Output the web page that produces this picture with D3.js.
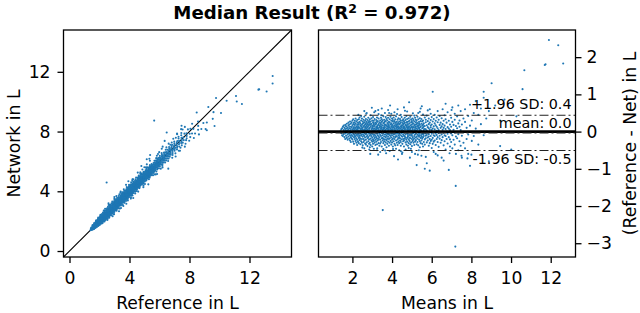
<!DOCTYPE html>
<html><head><meta charset="utf-8">
<script src="https://cdn.jsdelivr.net/npm/d3@7"></script>
<style>
html,body{margin:0;padding:0;background:#fff;}
svg{display:block;font-family:"DejaVu Sans",sans-serif;}
</style></head>
<body><svg id="c" width="640" height="313"></svg>
<script>
// ---- data (Bland-Altman: mean of Reference & Network, difference Reference - Network), in L ----
const cloudColumns = [
 [1.40,[0.01]],[1.44,[-0.04,0.06]],[1.48,[0.09,-0.1]],[1.52,[-0.02,0.13,-0.12]],
 [1.56,[0.04,-0.07,0.16]],[1.60,[-0.15,0.0,0.1]],[1.64,[0.07,-0.05,0.18,-0.2]],
 [1.68,[-0.11,0.02,0.14]],[1.72,[0.21,-0.03,-0.17,0.08]],[1.76,[-0.08,0.11,0.03,-0.22]],
 [1.80,[0.16,-0.13,0.05,-0.01,0.24]],[1.84,[-0.19,0.09,-0.06,0.19]],
 [1.88,[0.02,-0.24,0.13,-0.1,0.27]],[1.92,[-0.04,0.07,-0.15,0.21,-0.28]],
 [1.96,[0.12,-0.09,0.0,0.25,-0.18]],[2.00,[-0.21,0.05,0.16,-0.12,0.3,-0.02]],
 [2.04,[0.09,-0.27,0.2,-0.06,0.01,0.33]],[2.08,[-0.15,0.12,-0.33,0.04,0.24,-0.08]],
 [2.12,[0.18,-0.01,-0.2,0.29,-0.11,0.07]],[2.16,[-0.25,0.1,0.02,-0.14,0.35,0.22,-0.05]],
 [2.20,[0.14,-0.3,0.06,-0.09,0.27,-0.18,0.0]],[2.24,[-0.03,0.19,-0.22,0.11,-0.36,0.31,0.05]],
 [2.28,[0.08,-0.12,0.24,-0.27,0.02,0.15,-0.07]],[2.32,[-0.17,0.03,0.33,-0.04,0.12,-0.31,0.2]],
 [2.36,[0.1,-0.23,0.0,0.26,-0.1,0.38,-0.15]],[2.40,[-0.06,0.17,-0.34,0.07,0.22,-0.19,0.01]],
 [2.44,[0.13,-0.02,-0.26,0.3,-0.11,0.04,0.42]],[2.48,[-0.2,0.09,0.18,-0.08,0.35,-0.3,0.0]],
 [2.52,[0.05,-0.14,0.27,-0.37,0.11,-0.03,0.21]],[2.56,[-0.09,0.23,-0.2,0.02,0.32,-0.28,0.14]],
 [2.60,[0.16,-0.05,0.06,-0.24,0.4,-0.12,0.25,-0.45]],[2.64,[-0.32,0.11,-0.01,0.19,-0.16,0.29,0.03]],
 [2.68,[0.07,-0.22,0.34,-0.07,0.13,-0.35,0.22]],[2.72,[-0.13,0.02,0.26,-0.29,0.09,0.17,-0.04,0.5]],
 [2.76,[0.2,-0.18,0.05,-0.39,0.31,-0.1,0.12]],[2.80,[-0.02,0.15,-0.26,0.37,0.0,-0.15,0.24]],
 [2.84,[0.09,-0.33,0.18,-0.06,0.28,-0.21,0.04]],[2.88,[-0.11,0.23,-0.02,0.33,-0.3,0.1,-0.42]],
 [2.92,[0.14,-0.08,0.01,-0.19,0.27,-0.36,0.19,0.44]],[2.96,[-0.24,0.06,0.21,-0.12,0.36,0.0,-0.05]],
 [3.00,[0.11,-0.27,0.16,-0.03,0.3,-0.16,0.08,-0.4]],[3.04,[-0.07,0.25,-0.21,0.03,0.13,-0.33,0.39]],
 [3.08,[0.18,-0.12,0.07,-0.25,0.29,-0.01,0.22,-0.46]],[3.12,[-0.17,0.02,0.34,-0.08,0.15,-0.3,0.09]],
 [3.16,[0.06,-0.22,0.24,-0.36,0.0,0.19,-0.11,0.55]],[3.20,[-0.04,0.12,-0.15,0.31,-0.27,0.05,0.21]],
 [3.24,[0.26,-0.19,0.08,-0.06,0.38,-0.34,0.14,-0.5]],[3.28,[-0.1,0.17,-0.24,0.03,0.28,-0.02,0.1]],
 [3.32,[0.02,-0.31,0.2,-0.13,0.35,0.07,-0.2,0.47]],[3.36,[-0.16,0.11,-0.05,0.25,-0.38,0.16,0.0]],
 [3.40,[0.13,-0.09,0.3,-0.22,0.04,-0.32,0.23,-0.55]],[3.44,[-0.02,0.2,-0.28,0.09,0.37,-0.12,0.15]],
 [3.48,[0.07,-0.18,0.26,-0.04,0.12,-0.4,0.33,0.62]],[3.52,[-0.24,0.04,0.17,-0.1,0.29,-0.17,0.01]],
 [3.56,[0.22,-0.06,-0.31,0.1,0.41,-0.2,0.06,-0.47]],[3.60,[-0.13,0.15,-0.01,0.32,-0.26,0.08,0.24]],
 [3.64,[0.03,-0.21,0.19,-0.36,0.27,-0.08,0.12,0.5]],[3.68,[-0.07,0.28,-0.15,0.05,-0.29,0.18,0.39]],
 [3.72,[0.16,-0.11,0.0,-0.23,0.34,-0.42,0.09,-0.03]],[3.76,[-0.19,0.07,0.23,-0.05,0.14,-0.33,0.3]],
 [3.80,[0.1,-0.27,0.02,0.37,-0.14,0.2,-0.08,0.58]],[3.84,[-0.04,0.13,-0.2,0.26,-0.38,0.06,0.17]],
 [3.88,[0.24,-0.09,0.11,-0.3,0.0,0.33,-0.18,-0.52]],[3.92,[-0.12,0.19,-0.02,0.08,-0.25,0.4,0.03]],
 [3.96,[0.05,-0.16,0.29,-0.35,0.14,-0.06,0.22,0.48]],[4.00,[-0.22,0.1,0.02,-0.1,0.35,-0.29,0.18]],
 [4.04,[0.15,-0.04,-0.19,0.27,0.06,-0.4,0.31,-0.01]],[4.08,[-0.08,0.22,-0.26,0.12,0.0,0.38,-0.14]],
 [4.12,[0.09,-0.33,0.17,-0.07,0.28,-0.2,0.04,0.52]],[4.16,[-0.15,0.03,0.24,-0.37,0.13,-0.03,0.33]],
 [4.20,[0.2,-0.12,0.07,-0.24,0.41,-0.06,0.15,-0.46]],[4.24,[-0.02,0.16,-0.3,0.1,-0.13,0.26,0.0]],
 [4.28,[0.12,-0.21,0.32,-0.05,0.2,-0.36,0.05,0.6]],[4.32,[-0.1,0.08,-0.17,0.23,-0.27,0.36,0.14]],
 [4.36,[0.03,-0.06,0.27,-0.31,0.11,-0.15,0.19,-0.5]],[4.40,[-0.18,0.21,0.0,-0.09,0.34,-0.24,0.07]],
 [4.44,[0.14,-0.28,0.09,0.25,-0.02,-0.38,0.3,0.45]],[4.48,[-0.05,0.17,-0.21,0.04,-0.12,0.39,0.12]],
 [4.52,[0.23,-0.14,0.06,-0.33,0.29,-0.01,0.16,-0.56]],[4.56,[-0.2,0.02,0.19,-0.07,0.33,-0.26,0.1]],
 [4.60,[0.08,-0.24,0.28,-0.11,0.14,-0.4,0.22,0.65]],[4.64,[-0.13,0.11,-0.03,0.37,-0.19,0.05,0.24]],
 [4.68,[0.18,-0.08,-0.29,0.07,0.31,-0.16,0.0,-0.48]],[4.72,[-0.01,0.24,-0.22,0.13,-0.35,0.17,0.42]],
 [4.76,[0.1,-0.17,0.05,-0.27,0.26,-0.05,0.34,0.54]],[4.80,[-0.09,0.15,-0.38,0.02,0.2,-0.13,0.08]],
 [4.84,[0.27,-0.03,0.12,-0.21,0.36,-0.31,0.04,-0.44]],[4.88,[-0.16,0.06,0.22,-0.09,0.13,-0.25,0.3]],
 [4.92,[0.04,-0.34,0.17,-0.02,0.4,-0.18,0.09]],[4.96,[-0.11,0.25,-0.07,0.11,-0.29,0.33,0.01]],
 [5.00,[0.19,-0.2,0.03,-0.39,0.28,-0.1,0.14,-0.55]],[5.04,[-0.05,0.1,-0.25,0.35,0.06,-0.15,0.23]],
 [5.08,[0.12,-0.3,0.21,-0.04,0.31,-0.21,0.0]],[5.12,[-0.18,0.04,0.27,-0.12,0.16,-0.36,0.43]],
 [5.16,[0.07,-0.08,-0.27,0.19,0.37,-0.01,0.11,-0.6]],[5.20,[-0.23,0.14,-0.05,0.25,-0.16,0.03,0.32]],
 [5.24,[0.02,-0.13,0.2,-0.34,0.09,0.29,-0.9]],[5.28,[-0.08,0.23,-0.19,0.06,0.4,-0.28,0.15]],
 [5.32,[0.17,-0.02,-0.37,0.12,-0.11,0.33,0.5]],[5.36,[-0.14,0.08,0.26,-0.22,0.01,-0.06,0.21]],
 [5.40,[0.05,-0.26,0.18,-0.1,0.36,-0.42,0.11]],[5.44,[-0.03,0.13,-0.17,0.28,-0.31,0.04,0.62]],
 [5.48,[0.21,-0.09,0.02,-0.24,0.34,-0.14,-0.65]],[5.52,[-0.19,0.16,-0.04,0.09,-0.33,0.27]],
 [5.56,[0.1,-0.15,0.3,-0.07,0.19,-0.4,0.46]],[5.60,[-0.06,0.22,-0.28,0.04,0.14,-0.12]],
 [5.65,[0.15,-0.21,0.38,-0.02,-0.35,0.07,-1.0]],[5.70,[-0.11,0.06,0.25,-0.18,0.32,-0.05]],
 [5.75,[0.03,-0.29,0.17,-0.09,0.43,-0.85]],[5.80,[-0.16,0.12,-0.03,0.28,-0.24,0.57]],
 [5.85,[0.2,-0.07,-0.38,0.09,0.35,-0.13]],[5.90,[-0.02,0.24,-0.2,0.05,-0.31,-1.05]],
 [5.95,[0.11,-0.12,0.31,-0.25,0.16,0.48]],[6.00,[-0.22,0.04,0.19,-0.06,0.39,-0.44]],
 [6.05,[0.08,-0.17,0.27,-0.33,1.07]],[6.10,[-0.1,0.14,-0.02,0.34,-0.27]],
 [6.15,[0.22,-0.24,0.06,-0.12,0.45]],[6.20,[-0.05,0.17,-0.36,0.29,-0.6]],
 [6.25,[0.13,-0.09,0.02,-0.2,0.38]],[6.30,[-0.15,0.25,-0.28,0.09,0.55]],
 [6.35,[0.04,-0.04,0.32,-0.41]],[6.40,[-0.19,0.18,-0.11,0.42]],[6.45,[0.1,-0.3,0.24,-0.02]],
 [6.50,[-0.08,0.14,-0.23,0.36,-0.7]],[6.55,[0.2,-0.15,0.05,0.6]],[6.60,[-0.03,0.29,-0.37,0.1]],
 [6.65,[0.16,-0.1,-0.26,0.44]],[6.70,[-0.12,0.07,0.33,-0.48]],[6.75,[0.24,-0.2,0.0]],
 [6.80,[-0.06,0.12,-0.32,0.52]],[6.86,[0.08,-0.15,0.29,-1.03]],[6.92,[-0.21,0.19,0.04,-0.4]],
 [6.98,[0.13,-0.05,0.37,-0.28]],[7.04,[-0.1,0.26,-0.45,0.65]],[7.10,[0.05,-0.22,0.18]],
 [7.16,[-0.03,0.32,-0.35,0.48]],[7.22,[0.15,-0.13,-0.6]],[7.28,[-0.18,0.09,0.41]],
 [7.34,[0.22,-0.07,-0.5,0.7]],[7.40,[-0.26,0.13,0.3]],[7.46,[0.04,-0.38,0.55]],
 [7.52,[0.19,-0.11,-0.7]],[7.60,[-0.02,0.35,-0.3]],[7.68,[0.26,-0.45,0.6]],[7.76,[0.1,-0.2]],
 [7.84,[0.42,-0.08,-0.6]],[7.93,[0.16,-0.92,0.72]],[8.02,[-0.25,0.3]],[8.12,[0.5,-0.12]],
 [8.22,[0.08,0.82]],[8.35,[-0.35,0.45]],[8.48,[0.2,0.62]],[8.62,[1.07,-0.1,0.91]],
 [8.75,[0.35]],[8.88,[0.55,-0.8]],[9.02,[1.3]],[9.2,[0.7]],[9.45,[-0.39,0.3]],
 [9.67,[0.86]],[10.01,[-0.48]],[10.27,[0.41]],[10.58,[1.14]],[10.67,[1.65]],[10.74,[0.72]]
];
// sparse points away from the cloud
const sparseMeans = [2.98,3.3,3.9,4.86,5.5,6.7,7.0,2.9,3.3,3.7,4.1,4.5,4.9,5.3,5.7,6.3,6.6,7.5,7.8,8.0,2.6,4.3,
  2.3,2.7,3.1,3.45,3.85,4.25,4.65,5.05,5.4,5.9,2.5,2.85,3.25,3.65,4.05,4.45,4.95,5.35,6.1,6.9];
const sparseDiffs = [0.64,0.58,0.7,0.79,0.68,0.75,0.58,-0.6,-0.62,-0.58,-0.66,-0.6,-0.7,-0.62,-0.68,-0.64,-0.78,-0.65,-0.72,-0.62,0.55,-0.75,
  0.45,0.48,0.52,0.44,0.5,0.47,0.56,0.49,0.53,0.6,-0.43,-0.48,-0.45,-0.51,-0.47,-0.53,-0.46,-0.5,-0.55,-0.58];
// isolated outliers
const outlierMeans = [3.53,7.21,7.19,11.74,11.91,12.38,12.63,11.7];
const outlierDiffs = [-2.11,-1.46,-3.09,1.81,2.46,2.32,1.83,1.79];

const limitUpper = 0.44, limitMean = -0.035, limitLower = -0.51;
const annotations = ["+1.96 SD: 0.4","mean: 0.0","-1.96 SD: -0.5"];
const xTicksLeft = [0,4,8,12], yTicksLeft = [0,4,8,12];
const xTicksRight = [2,4,6,8,10,12], yTicksRight = [-3,-2,-1,0,1,2];

// ---- build points ----
const pts = [];
cloudColumns.forEach(([m, ds]) => ds.forEach(d => pts.push({m, d})));
sparseMeans.forEach((m,i) => pts.push({m, d: sparseDiffs[i]}));
outlierMeans.forEach((m,i) => pts.push({m, d: outlierDiffs[i]}));
pts.forEach(p => { p.ref = p.m + p.d/2; p.net = p.m - p.d/2; });

const svg = d3.select("#c");
const blue = "#1f77b4";
const FS = 17.2;
const fmt = d3.format("d");

// boxes
const L = {x0:63.5, x1:291.5, y0:30, y1:257};
const R = {x0:318.5, x1:575.5, y0:30, y1:257};

const xL = d3.scaleLinear().domain([-0.4,14.8]).range([L.x0,L.x1]);
const yL = d3.scaleLinear().domain([-0.4,14.8]).range([L.y1,L.y0]);
const xR = d3.scaleLinear().domain([0.29,13.25]).range([R.x0,R.x1]);
const yR = d3.scaleLinear().domain([-3.37,2.73]).range([R.y1,R.y0]);

// ---- left panel ----
const gL = svg.append("g");
gL.append("line")
  .attr("x1", xL(-0.4)).attr("y1", yL(-0.4))
  .attr("x2", xL(14.8)).attr("y2", yL(14.8))
  .attr("stroke","#000").attr("stroke-width",1.1);
gL.append("g").selectAll("circle").data(pts).join("circle")
  .attr("cx", p => xL(p.ref)).attr("cy", p => yL(p.net))
  .attr("r", 1.05).attr("fill", blue);
gL.append("rect").attr("x",L.x0).attr("y",L.y0).attr("width",L.x1-L.x0).attr("height",L.y1-L.y0)
  .attr("fill","none").attr("stroke","#000").attr("stroke-width",1.3);

function styleAxis(g){
  g.select(".domain").remove();
  g.selectAll(".tick line").attr("stroke","#000").attr("stroke-width",1.3);
  g.selectAll(".tick text").attr("font-size",FS).attr("fill","#000").attr("font-family","DejaVu Sans");
}
gL.append("g").attr("transform",`translate(0,${L.y1})`)
  .call(d3.axisBottom(xL).tickValues(xTicksLeft).tickFormat(fmt).tickSize(6).tickPadding(9)).call(styleAxis);
gL.append("g").attr("transform",`translate(${L.x0},0)`)
  .call(d3.axisLeft(yL).tickValues(yTicksLeft).tickFormat(fmt).tickSize(6).tickPadding(7)).call(styleAxis);

svg.append("text").attr("x",(L.x0+L.x1)/2).attr("y",308.5).attr("text-anchor","middle")
  .attr("font-size",FS).text("Reference in L");
svg.append("text").attr("transform",`translate(20,${(L.y0+L.y1)/2}) rotate(-90)`)
  .attr("text-anchor","middle").attr("font-size",FS).text("Network in L");

// ---- right panel ----
const gR = svg.append("g");
gR.append("g").selectAll("circle").data(pts).join("circle")
  .attr("cx", p => xR(p.m)).attr("cy", p => yR(p.d))
  .attr("r", 1.05).attr("fill", blue);
gR.append("line").attr("x1",R.x0).attr("x2",R.x1).attr("y1",yR(0)).attr("y2",yR(0))
  .attr("stroke","#000").attr("stroke-width",2.6);
[limitUpper, limitMean, limitLower].forEach(v => {
  gR.append("line").attr("x1",R.x0).attr("x2",R.x1).attr("y1",yR(v)).attr("y2",yR(v))
    .attr("stroke","#222").attr("stroke-width",1.1).attr("stroke-dasharray","9,3,2,3");
});
gR.append("rect").attr("x",R.x0).attr("y",R.y0).attr("width",R.x1-R.x0).attr("height",R.y1-R.y0)
  .attr("fill","none").attr("stroke","#000").attr("stroke-width",1.3);
gR.append("g").attr("transform",`translate(0,${R.y1})`)
  .call(d3.axisBottom(xR).tickValues(xTicksRight).tickFormat(fmt).tickSize(6).tickPadding(9)).call(styleAxis);
gR.append("g").attr("transform",`translate(${R.x1},0)`)
  .call(d3.axisRight(yR).tickValues(yTicksRight).tickFormat(fmt).tickSize(6).tickPadding(5)).call(styleAxis);

const annY = [yR(limitUpper)-6, yR(limitMean)-4.5, yR(limitLower)+13.5];
annotations.forEach((t,i) => {
  svg.append("text").attr("x",571.5).attr("y",annY[i]).attr("text-anchor","end")
    .attr("font-size",14.3).text(t);
});

svg.append("text").attr("x",(R.x0+R.x1)/2).attr("y",308.5).attr("text-anchor","middle")
  .attr("font-size",FS).text("Means in L");
svg.append("text").attr("transform",`translate(636,${(R.y0+R.y1)/2}) rotate(-90)`)
  .attr("text-anchor","middle").attr("font-size",FS).text("(Reference - Net) in L");

// ---- title ----
const title = svg.append("text").attr("x",312).attr("y",19).attr("text-anchor","middle")
  .attr("font-size",18.2).attr("font-weight","bold");
title.append("tspan").text("Median Result (R");
title.append("tspan").attr("font-size",12.5).attr("dy",-6.5).text("2");
title.append("tspan").attr("dy",6.5).text(" = 0.972)");
</script></body></html>
